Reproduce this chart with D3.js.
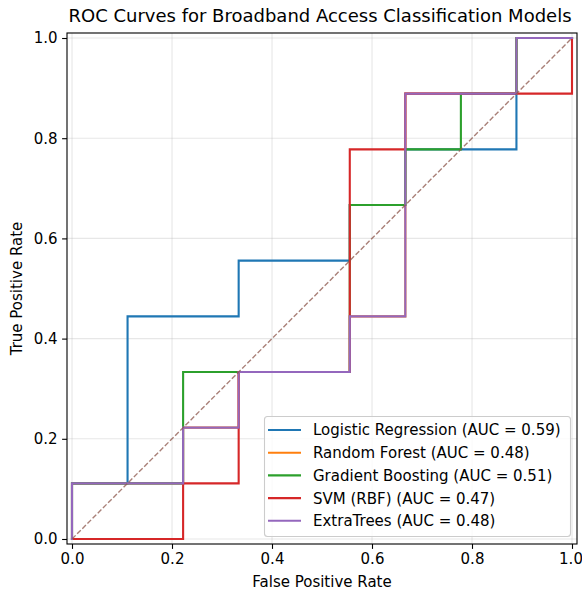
<!DOCTYPE html>
<html>
<head>
<meta charset="utf-8">
<script src="https://cdn.jsdelivr.net/npm/d3@7"></script>
<style>
  html, body { margin: 0; padding: 0; background: #fff; }
  svg { display: block; font-family: "DejaVu Sans", sans-serif; }
</style>
</head>
<body>
<svg id="chart" width="582" height="593"></svg>
<script>
// Step size: 9 positives and 9 negatives in the test split
const N = 9;

// ROC points as (false positives, true positives) counts out of 9
const models = ["Logistic Regression", "Random Forest", "Gradient Boosting", "SVM (RBF)", "ExtraTrees"];
const aucs = [0.59, 0.48, 0.51, 0.47, 0.48];
const colors = ["#1f77b4", "#ff7f0e", "#2ca02c", "#d62728", "#9467bd"];

const fprLR = [0, 0, 1, 1, 3, 3, 5, 5, 6, 6, 8, 8, 9];
const tprLR = [0, 1, 1, 4, 4, 5, 5, 6, 6, 7, 7, 9, 9];

const fprRF = [0, 0, 2, 2, 3, 3, 5, 5, 6, 6, 8, 8, 9];
const tprRF = [0, 1, 1, 2, 2, 3, 3, 4, 4, 8, 8, 9, 9];

const fprGB = [0, 0, 2, 2, 5, 5, 6, 6, 7, 7, 8, 8, 9];
const tprGB = [0, 1, 1, 3, 3, 6, 6, 7, 7, 8, 8, 9, 9];

const fprSVM = [0, 2, 2, 3, 3, 5, 5, 6, 6, 9, 9];
const tprSVM = [0, 0, 1, 1, 3, 3, 7, 7, 8, 8, 9];

const fprET = [0, 0, 2, 2, 3, 3, 5, 5, 6, 6, 8, 8, 9];
const tprET = [0, 1, 1, 2, 2, 3, 3, 4, 4, 8, 8, 9, 9];

const fprs = [fprLR, fprRF, fprGB, fprSVM, fprET];
const tprs = [tprLR, tprRF, tprGB, tprSVM, tprET];

const ticks = [0, 0.2, 0.4, 0.6, 0.8, 1.0];

const svg = d3.select("#chart");
const plotLeft = 67, plotRight = 577, plotTop = 33, plotBottom = 544;
const fontSize = "15px";

const x = d3.scaleLinear().domain([-0.01, 1.01]).range([plotLeft, plotRight]);
const y = d3.scaleLinear().domain([-0.01, 1.01]).range([plotBottom, plotTop]);

// grid
const grid = svg.append("g");
grid.selectAll(".gx").data(ticks).join("line")
  .attr("x1", d => x(d)).attr("x2", d => x(d))
  .attr("y1", plotTop).attr("y2", plotBottom)
  .attr("stroke", "#b0b0b0").attr("stroke-opacity", 0.3).attr("stroke-width", 1.1);
grid.selectAll(".gy").data(ticks).join("line")
  .attr("y1", d => y(d)).attr("y2", d => y(d))
  .attr("x1", plotLeft).attr("x2", plotRight)
  .attr("stroke", "#b0b0b0").attr("stroke-opacity", 0.3).attr("stroke-width", 1.1);

// curves
const line = d3.line().x(d => x(d[0] / N)).y(d => y(d[1] / N));
const plot = svg.append("g");
models.forEach((m, i) => {
  const pts = fprs[i].map((f, k) => [f, tprs[i][k]]);
  plot.append("path")
    .datum(pts)
    .attr("d", line)
    .attr("fill", "none")
    .attr("stroke", colors[i])
    .attr("stroke-width", 2.1)
    .attr("stroke-linejoin", "miter")
    .attr("stroke-linecap", "square");
});

// chance diagonal
plot.append("path")
  .datum([[0, 0], [N, N]])
  .attr("d", line)
  .attr("fill", "none")
  .attr("stroke", "#8c564b")
  .attr("stroke-opacity", 0.75)
  .attr("stroke-width", 1.4)
  .attr("stroke-dasharray", "5.1,2.2");

// axes
const xAxis = d3.axisBottom(x).tickValues(ticks).tickFormat(d3.format(".1f")).tickSize(4.9).tickPadding(4.5);
const yAxis = d3.axisLeft(y).tickValues(ticks).tickFormat(d3.format(".1f")).tickSize(4.9).tickPadding(4.5);

const gx = svg.append("g").attr("transform", `translate(0,${plotBottom})`).call(xAxis);
const gy = svg.append("g").attr("transform", `translate(${plotLeft},0)`).call(yAxis);
[gx, gy].forEach(g => {
  g.select(".domain").remove();
  g.selectAll("line").attr("stroke", "#000").attr("stroke-width", 1.1);
  g.selectAll("text").attr("font-family", "DejaVu Sans").attr("font-size", fontSize).attr("fill", "#000");
});
// keep the last x tick label inside the canvas
gx.selectAll("text").filter(d => d === 1).attr("dx", "-1.5px");

// frame
svg.append("rect")
  .attr("x", plotLeft).attr("y", plotTop)
  .attr("width", plotRight - plotLeft).attr("height", plotBottom - plotTop)
  .attr("fill", "none").attr("stroke", "#000").attr("stroke-width", 1.1);

// labels
svg.append("text")
  .attr("x", (plotLeft + plotRight) / 2 - 2).attr("y", 22)
  .attr("text-anchor", "middle")
  .attr("font-size", "18px")
  .text("ROC Curves for Broadband Access Classification Models");

svg.append("text")
  .attr("x", (plotLeft + plotRight) / 2).attr("y", 587)
  .attr("text-anchor", "middle")
  .attr("font-size", fontSize)
  .text("False Positive Rate");

svg.append("text")
  .attr("transform", `translate(22,${(plotTop + plotBottom) / 2}) rotate(-90)`)
  .attr("text-anchor", "middle")
  .attr("font-size", fontSize)
  .text("True Positive Rate");

// legend
const lg = svg.append("g");
lg.append("rect")
  .attr("x", 264.5).attr("y", 416.5)
  .attr("width", 306).attr("height", 120)
  .attr("rx", 3).attr("ry", 3)
  .attr("fill", "#fff").attr("fill-opacity", 0.8)
  .attr("stroke", "#cccccc").attr("stroke-width", 1.1);

models.forEach((m, i) => {
  const ry = 430 + i * 22.7;
  lg.append("line")
    .attr("x1", 268).attr("x2", 301)
    .attr("y1", ry).attr("y2", ry)
    .attr("stroke", colors[i]).attr("stroke-width", 2.1);
  lg.append("text")
    .attr("x", 313).attr("y", ry)
    .attr("dy", "0.36em")
    .attr("font-size", fontSize)
    .text(`${m} (AUC = ${aucs[i].toFixed(2)})`);
});
</script>
</body>
</html>
